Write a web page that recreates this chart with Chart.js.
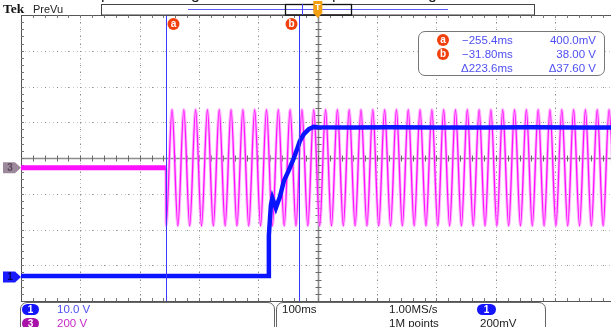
<!DOCTYPE html>
<html>
<head>
<meta charset="utf-8">
<script src="https://cdn.jsdelivr.net/npm/chart.js@4.4.0/dist/chart.umd.min.js"></script>
<style>
body { margin: 0; width: 611px; height: 327px; overflow: hidden; background: #fff; position: relative; font-family: "Liberation Sans", Arial, sans-serif; }
canvas { position: absolute; left: 0; top: 0; }
.t { position: absolute; white-space: nowrap; line-height: 12px; font-size: 11.5px; }
.blue { color: #4f4ff2; }
.mag { color: #c62ac6; }
.dark { color: #222; }
.circ { position: absolute; width: 12px; height: 12px; border-radius: 50%; background: #f2400c; color: #fff; font: bold 10px/12px "Liberation Sans", Arial, sans-serif; text-align: center; }
.pill { position: absolute; height: 11px; border-radius: 6px; color: #fff; font: bold 10px/11px "Liberation Sans", Arial, sans-serif; text-align: center; }
.box { position: absolute; border: 1.5px solid #777; border-radius: 7px; background: #fff; }
.cut { position: absolute; font-size: 16px; line-height: 16px; top: -14px; color: #222; }
</style>
</head>
<body>
<canvas id="scope" width="611" height="327"></canvas>

<div class="t" style="left:3px;top:2px;font:bold 13.5px/14px 'Liberation Serif',serif;color:#111;">Tek</div>
<div class="t dark" style="left:33px;top:3px;font-size:11px;">PreVu</div>
<div class="cut" style="left:101px;">p</div>
<div class="cut" style="left:191px;">g</div>
<div class="cut" style="left:332px;">p</div>
<div class="cut" style="left:428px;">g</div>

<div class="box" style="left:418px;top:31px;width:185px;height:43px;"></div>
<div class="circ" style="left:437px;top:34px;">a</div>
<div class="circ" style="left:437px;top:48px;">b</div>
<div class="t blue" style="left:462px;top:34px;">−255.4ms</div>
<div class="t blue" style="left:462px;top:48px;">−31.80ms</div>
<div class="t blue" style="left:461px;top:62px;">Δ223.6ms</div>
<div class="t blue" style="right:15px;top:34px;">400.0mV</div>
<div class="t blue" style="right:15px;top:48px;">38.00 V</div>
<div class="t blue" style="right:15px;top:62px;">Δ37.60 V</div>

<div class="box" style="left:20px;top:302px;width:253px;height:40px;border-color:#666;"></div>
<div class="box" style="left:276px;top:302px;width:268px;height:40px;border-color:#666;"></div>
<div class="pill" style="left:22px;top:304px;width:17px;background:#1414ff;">1</div>
<div class="pill" style="left:22px;top:318px;width:17px;background:#a812a8;">3</div>
<div class="t blue" style="left:57px;top:303px;">10.0 V</div>
<div class="t mag" style="left:57px;top:317px;">200 V</div>
<div class="t dark" style="left:282px;top:303px;">100ms</div>
<div class="t dark" style="left:389px;top:303px;">1.00MS/s</div>
<div class="t dark" style="left:389px;top:317px;">1M points</div>
<div class="pill" style="left:477px;top:304px;width:19px;background:#1414ff;">1</div>
<div class="t dark" style="left:480px;top:317px;">200mV</div>

<script>
// graticule positions (time in ms, vertical in divisions)
const timeDivs = [-400, -300, -200, -100, 0, 100, 200, 300, 400];
const vertDivs = [-3, -2, -1, 0, 1, 2, 3];
const cursorTimes = [-255.4, -31.8];
const cursorNames = ['a', 'b'];
const triggerTime = 0;

// channel 1 (blue), ms / V
const ch1Times = [-500, -83.2, -82.4, -79, -76.5, -70.6, -63.9, -57.1, -48.7, -40.3, -33.6, -30.3, -23.5, -15.1, -6.7, 0, 60, 120, 200, 280, 360, 440, 494];
const ch1Volts = [0.3, 0.3, 11.7, 20.1, 22.1, 19.3, 22.4, 26.9, 29.9, 33.3, 36.4, 38.0, 40.0, 41.4, 42.0, 41.9, 41.8, 41.9, 41.8, 41.8, 41.9, 41.8, 41.8];

// channel 3 (magenta), ms / V : flat, then peaks and troughs of the mains wave
const ch3Times = [-500, -256, -255.5,
  -245.6, -235.7, -225.7, -215.8, -205.8, -195.9, -185.9, -176.0, -166.0, -156.1, -146.1, -136.2, -126.2, -116.3,
  -106.3, -96.4, -86.4, -76.5, -66.5, -56.6, -46.6, -36.7, -26.7, -16.8, -6.8, 3.2, 13.1, 23.1, 33.0, 43.0,
  52.9, 62.9, 72.8, 82.8, 92.7, 102.7, 112.6, 122.6, 132.5, 142.5, 152.4, 162.4, 172.3, 182.3, 192.2, 202.2,
  212.1, 222.1, 232.0, 242.0, 251.9, 261.9, 271.8, 281.8, 291.7, 301.7, 311.6, 321.6, 331.5, 341.5, 351.4, 361.4,
  371.3, 381.3, 391.2, 401.2, 411.1, 421.1, 431.0, 441.0, 450.9, 460.9, 470.8, 480.8, 490.7, 500.7];
const ch3Volts = [0, 0, -325,
  325, -325, 325, -325, 325, -325, 325, -325, 325, -325, 325, -325, 325, -325,
  325, -325, 325, -325, 325, -325, 325, -325, 325, -325, 325, -325, 325, -325, 325, -325,
  325, -325, 325, -325, 325, -325, 325, -325, 325, -325, 325, -325, 325, -325, 325, -325,
  325, -325, 325, -325, 325, -325, 325, -325, 325, -325, 325, -325, 325, -325, 325, -325,
  325, -325, 325, -325, 325, -325, 325, -325, 325, -325, 325, -325, 325, -325];

const ch1VoltsPerDiv = 10, ch1OffsetDiv = -3.33;
const ch3VoltsPerDiv = 200, ch3OffsetDiv = -0.27;

const pts = (ts, vs) => ts.map((t, i) => ({ x: t, y: vs[i] }));
const ch3Points = pts(ch3Times, ch3Volts);

function seg(ctx, x1, y1, x2, y2) {
  ctx.beginPath(); ctx.moveTo(x1, y1); ctx.lineTo(x2, y2); ctx.stroke();
}

const graticule = {
  id: 'graticule',
  beforeDatasetsDraw(chart) {
    const { ctx, chartArea: a, scales } = chart;
    const xs = scales.x, ds = scales.div;
    const minorX = (xs.getPixelForValue(100) - xs.getPixelForValue(0)) / 5;
    const minorY = (ds.getPixelForValue(0) - ds.getPixelForValue(1)) / 5;
    const cx = Math.round(xs.getPixelForValue(0)) + 0.5;
    const cy = Math.round(ds.getPixelForValue(0)) + 0.5;
    ctx.save();
    ctx.lineWidth = 1;
    // dotted division lines
    ctx.strokeStyle = '#c4c4c4';
    ctx.setLineDash([1, 3]);
    timeDivs.forEach(t => {
      if (t === 0) return;
      const px = Math.round(xs.getPixelForValue(t)) + 0.5;
      seg(ctx, px, a.top, px, a.bottom);
    });
    vertDivs.forEach(v => {
      if (v === 0) return;
      const py = Math.round(ds.getPixelForValue(v)) + 0.5;
      seg(ctx, a.left, py, a.right, py);
    });
    ctx.setLineDash([]);
    // darker dots at minor steps on division lines
    ctx.fillStyle = '#8a8a8a';
    timeDivs.forEach(t => {
      if (t === 0) return;
      const px = Math.round(xs.getPixelForValue(t));
      for (let y = a.top + minorY; y < a.bottom - 1; y += minorY) ctx.fillRect(px, Math.round(y), 1, 1);
    });
    vertDivs.forEach(v => {
      if (v === 0) return;
      const py = Math.round(ds.getPixelForValue(v));
      for (let x = a.left + minorX; x < a.right; x += minorX) ctx.fillRect(Math.round(x), py, 1, 1);
    });
    // centre cross
    ctx.strokeStyle = '#8c8c8c';
    ctx.lineWidth = 1.6;
    seg(ctx, a.left, cy, a.right, cy);
    seg(ctx, cx, a.top, cx, a.bottom);
    ctx.lineWidth = 1;
    ctx.strokeStyle = '#6a6a6a';
    for (let x = a.left + minorX; x < a.right; x += minorX) {
      const px = Math.round(x) + 0.5; seg(ctx, px, cy - 3, px, cy + 3);
    }
    for (let y = a.top + minorY; y < a.bottom - 1; y += minorY) {
      const py = Math.round(y) + 0.5; seg(ctx, cx - 3, py, cx + 3, py);
    }
    // frame with edge ticks
    ctx.strokeStyle = '#555';
    seg(ctx, a.left + 0.5, a.top, a.left + 0.5, a.bottom);
    seg(ctx, a.left, a.top + 0.5, a.right, a.top + 0.5);
    seg(ctx, a.left, a.bottom + 0.5, a.right, a.bottom + 0.5);
    ctx.strokeStyle = '#777';
    for (let x = a.left + minorX; x < a.right; x += minorX) {
      const px = Math.round(x) + 0.5;
      seg(ctx, px, a.top, px, a.top + 3);
      seg(ctx, px, a.bottom - 3, px, a.bottom);
    }
    for (let y = a.top + minorY; y < a.bottom - 1; y += minorY) {
      const py = Math.round(y) + 0.5;
      seg(ctx, a.left, py, a.left + 3, py);
    }
    ctx.restore();
  },
  afterDatasetsDraw(chart) {
    const { ctx, chartArea: a, scales } = chart;
    const xs = scales.x;
    ctx.save();
    // cursors
    ctx.strokeStyle = '#3a3aff';
    ctx.lineWidth = 1;
    cursorTimes.forEach((t, i) => {
      const px = Math.round(xs.getPixelForValue(t)) + 0.5;
      seg(ctx, px, a.top, px, a.bottom);
      const lx = i === 0 ? px + 7 : px - 8;
      ctx.fillStyle = '#f2400c';
      ctx.beginPath(); ctx.arc(lx, 24, 6, 0, Math.PI * 2); ctx.fill();
      ctx.fillStyle = '#fff';
      ctx.font = 'bold 10px "Liberation Sans", Arial, sans-serif';
      ctx.textAlign = 'center'; ctx.textBaseline = 'middle';
      ctx.fillText(cursorNames[i], lx, 24.5);
    });
    // record view bar
    ctx.fillStyle = '#fff';
    ctx.fillRect(101, 4, 433, 11);
    ctx.strokeStyle = '#444';
    ctx.strokeRect(101.5, 4.5, 433, 10.5);
    ctx.strokeStyle = '#5a5aff';
    seg(ctx, 188, 9.5, 448, 9.5);
    ctx.strokeStyle = '#111';
    ctx.lineWidth = 1.3;
    ctx.strokeRect(285.5, 4.5, 66, 10.5);
    ctx.lineWidth = 1;
    ctx.strokeStyle = '#4040ff';
    seg(ctx, 302.5, 4, 302.5, 15);
    // channel ground markers
    const marker = (y, fill, txt, tcol) => {
      ctx.fillStyle = fill;
      ctx.beginPath();
      ctx.moveTo(3, y - 5.5); ctx.lineTo(15, y - 5.5); ctx.lineTo(21, y); ctx.lineTo(15, y + 5.5); ctx.lineTo(3, y + 5.5);
      ctx.closePath(); ctx.fill();
      ctx.fillStyle = tcol;
      ctx.font = 'bold 10px "Liberation Sans", Arial, sans-serif';
      ctx.textAlign = 'center'; ctx.textBaseline = 'middle';
      ctx.fillText(txt, 10, y + 0.5);
    };
    marker(scales.y3.getPixelForValue(0), '#9c8a9c', '3', '#5a4a5a');
    marker(scales.y1.getPixelForValue(0), '#1a1aff', '1', '#00006a');
    // trigger marker
    const tx = xs.getPixelForValue(triggerTime);
    ctx.fillStyle = '#f4a010';
    ctx.beginPath();
    ctx.moveTo(tx - 4.5, 1); ctx.lineTo(tx + 4.5, 1); ctx.lineTo(tx + 4.5, 13); ctx.lineTo(tx, 18); ctx.lineTo(tx - 4.5, 13);
    ctx.closePath(); ctx.fill();
    ctx.fillStyle = '#fff';
    ctx.font = 'bold 9px "Liberation Sans", Arial, sans-serif';
    ctx.textAlign = 'center'; ctx.textBaseline = 'middle';
    ctx.fillText('T', tx, 8);
    // trigger slope icon
    ctx.strokeStyle = '#222';
    ctx.beginPath();
    ctx.moveTo(502, 313.5); ctx.lineTo(505, 313.5); ctx.lineTo(509, 305.5); ctx.lineTo(512, 305.5);
    ctx.stroke();
    ctx.restore();
  }
};

new Chart(document.getElementById('scope'), {
  type: 'line',
  data: {
    datasets: [{
      label: 'CH1',
      data: pts(ch1Times, ch1Volts),
      yAxisID: 'y1',
      borderColor: '#0a14ff',
      borderWidth: 4.5,
      pointRadius: 0,
      tension: 0
    }, {
      label: 'CH3',
      data: ch3Points,
      yAxisID: 'y3',
      borderColor: '#ff10ff',
      borderWidth: 1.3,
      pointRadius: 0,
      cubicInterpolationMode: 'monotone',
      // the idle part before the switch-on is a wide noisy band
      segment: { borderWidth: c => c.p1.parsed.x <= -256 ? 5 : undefined }
    }, {
      label: 'CH3 band',
      data: ch3Points,
      yAxisID: 'y3',
      borderColor: 'rgba(255,150,255,0.7)',
      borderWidth: 3,
      pointRadius: 0,
      cubicInterpolationMode: 'monotone'
    }]
  },
  options: {
    responsive: false,
    animation: false,
    devicePixelRatio: 1,
    events: [],
    layout: { padding: { left: 21, top: 15, right: 0, bottom: 26 } },
    plugins: { legend: { display: false }, tooltip: { enabled: false } },
    scales: {
      x: { type: 'linear', min: -500, max: 494, display: false },
      y1: { type: 'linear', min: (-4 - ch1OffsetDiv) * ch1VoltsPerDiv, max: (4 - ch1OffsetDiv) * ch1VoltsPerDiv, display: false },
      y3: { type: 'linear', min: (-4 - ch3OffsetDiv) * ch3VoltsPerDiv, max: (4 - ch3OffsetDiv) * ch3VoltsPerDiv, display: false },
      div: { type: 'linear', axis: 'y', min: -4, max: 4, display: false }
    }
  },
  plugins: [graticule]
});
</script>
</body>
</html>
